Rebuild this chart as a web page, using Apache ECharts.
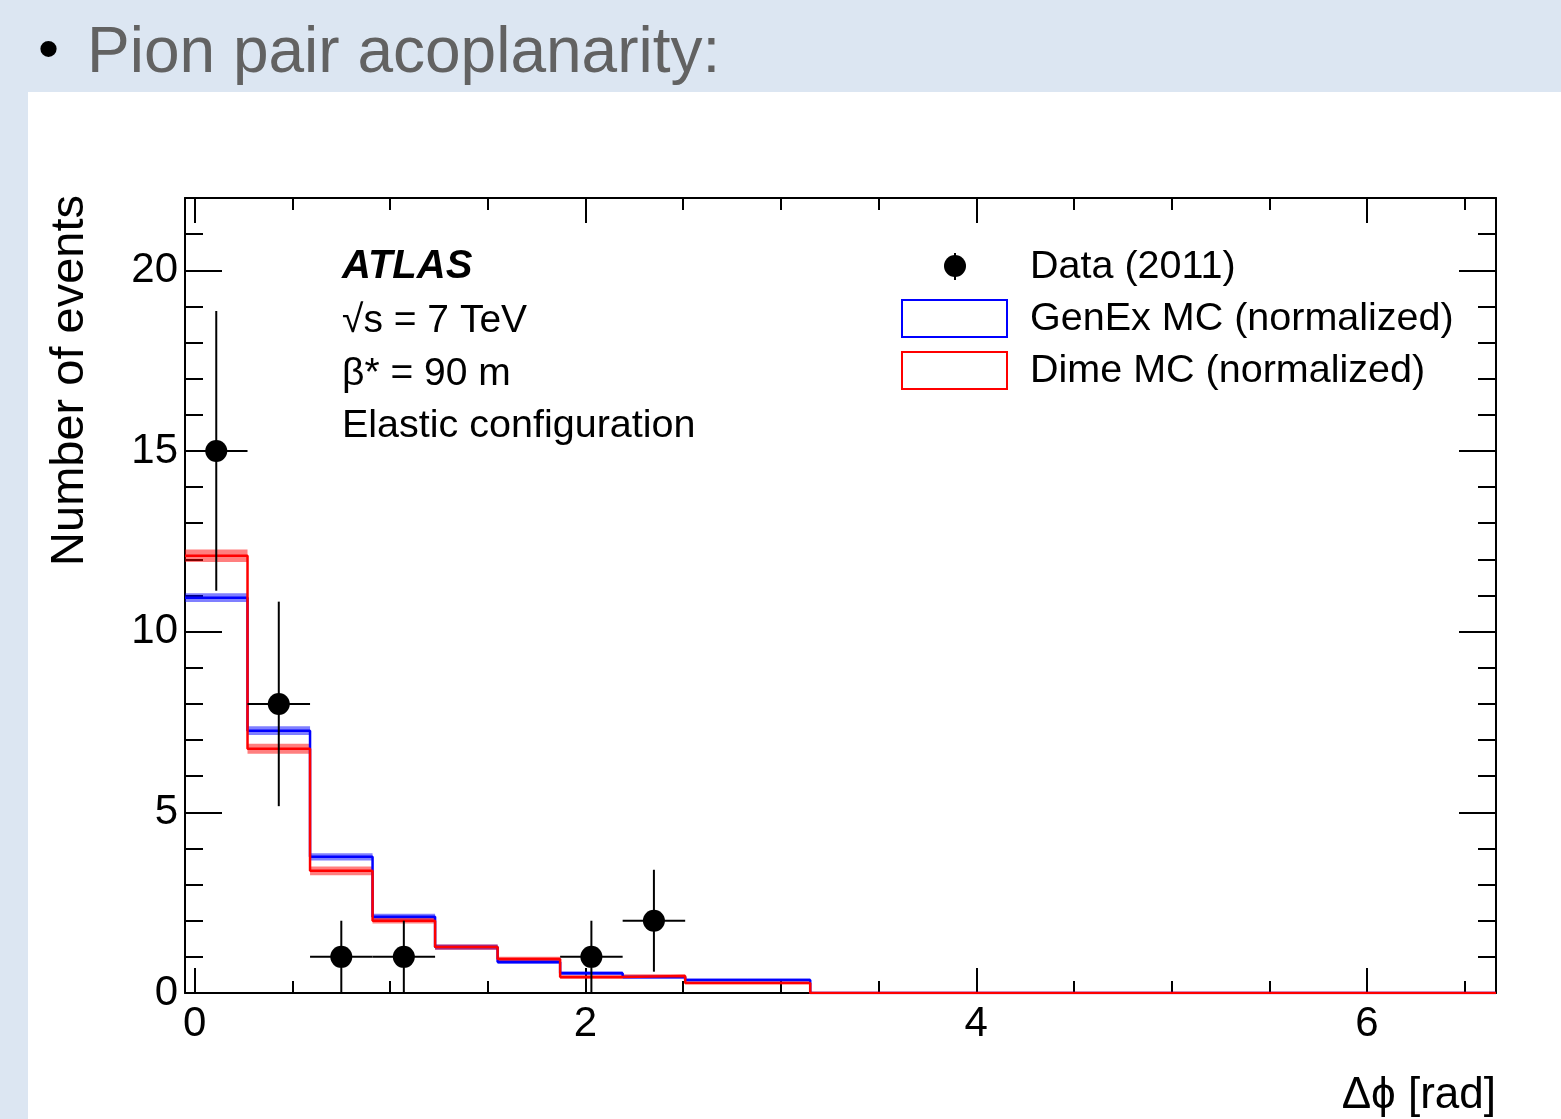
<!DOCTYPE html>
<html>
<head>
    <meta charset="UTF-8">
    <title>Pion pair acoplanarity</title>
    <script src="https://cdn.jsdelivr.net/npm/echarts@6/dist/echarts.min.js"></script>
    <style>
        html, body {margin: 0; padding: 0; background: #dce6f2;}
        #paper {position: absolute; left: 28px; top: 92px; width: 1533px; height: 1027px; background: #fff;}
        #main {position: absolute; left: 0; top: 0; width: 1561px; height: 1119px;}
    </style>
</head>
<body>
<div id="paper"></div>
<div id="main"></div>

<script>
    var myChart = echarts.init(document.getElementById('main'));

    // bin edges of the histogram (rad)
    var binEdges = [-0.05, 0.27, 0.59, 0.91, 1.23, 1.55, 1.87, 2.19, 2.51, 2.83, 3.15];
    var xMin = -0.05, xMax = 6.66;

    // data (2011): counts per bin and their errors
    var dataCounts = [15, 8, 1, 1, 0, 0, 1, 2, 0, 0];
    var dataErrors = [3.87, 2.83, 1, 1, 0, 0, 1, 1.41, 0, 0];

    // MC, normalized
    var genexValues = [10.94, 7.26, 3.77, 2.11, 1.27, 0.86, 0.55, 0.44, 0.36, 0.36];
    var genexErrors = [0.12, 0.12, 0.1, 0.08, 0.07, 0.06, 0.05, 0.05, 0.04, 0.04];
    var dimeValues = [12.1, 6.76, 3.38, 2.0, 1.27, 0.94, 0.44, 0.47, 0.28, 0.28];
    var dimeErrors = [0.17, 0.14, 0.12, 0.08, 0.07, 0.06, 0.05, 0.05, 0.04, 0.04];

    // axis ticks
    var xMajorTicks = [0, 2, 4, 6];
    var xMinorTicks = [0.5, 1, 1.5, 2.5, 3, 3.5, 4.5, 5, 5.5, 6.5];
    var yMajorTicks = [0, 5, 10, 15, 20];
    var yMinorTicks = [1, 2, 3, 4, 6, 7, 8, 9, 11, 12, 13, 14, 16, 17, 18, 19, 21, 22];

    var font = '"Liberation Sans", Arial, Helvetica, sans-serif';

    function stepData(values) {
        var pts = [];
        for (var i = 0; i < values.length; i++) {
            pts.push([binEdges[i], values[i]]);
        }
        pts.push([binEdges[binEdges.length - 1], 0]);
        pts.push([xMax, 0]);
        return pts;
    }

    function bandData(values, errors) {
        return values.map(function (v, i) {
            return [binEdges[i], binEdges[i + 1], v - errors[i], v + errors[i]];
        });
    }

    var points = [], errBars = [];
    dataCounts.forEach(function (n, i) {
        if (n <= 0) return;
        var xc = (binEdges[i] + binEdges[i + 1]) / 2;
        points.push([xc, n]);
        errBars.push([xc, n, dataErrors[i], binEdges[i], binEdges[i + 1]]);
    });

    function renderBand(color) {
        return function (params, api) {
            var p0 = api.coord([api.value(0), api.value(3)]);
            var p1 = api.coord([api.value(1), api.value(2)]);
            return {
                type: 'rect',
                shape: {x: p0[0], y: p0[1], width: p1[0] - p0[0], height: p1[1] - p0[1]},
                style: {fill: color}
            };
        };
    }

    function xAxisDef(pos, ticks, len, labels, line) {
        return {
            type: 'value', position: pos, min: xMin, max: xMax,
            axisLine: {show: line, onZero: false, lineStyle: {color: '#000', width: 2}},
            axisTick: {show: true, inside: true, length: len, customValues: ticks, lineStyle: {color: '#000', width: 2}},
            axisLabel: labels ? {show: true, customValues: ticks, color: '#000', fontSize: 42, fontFamily: font, margin: 10} : {show: false},
            splitLine: {show: false}
        };
    }

    function yAxisDef(pos, ticks, len, labels, line) {
        return {
            type: 'value', position: pos, min: 0, max: 22,
            axisLine: {show: line, onZero: false, lineStyle: {color: '#000', width: 2}},
            axisTick: {show: true, inside: true, length: len, customValues: ticks, lineStyle: {color: '#000', width: 2}},
            axisLabel: labels ? {show: true, customValues: ticks, color: '#000', fontSize: 42, fontFamily: font, margin: 7} : {show: false},
            splitLine: {show: false}
        };
    }

    var option = {
        animation: false,
        backgroundColor: 'transparent',
        grid: {left: 185, top: 198, width: 1311, height: 795, containLabel: false},
        xAxis: [
            xAxisDef('bottom', xMajorTicks, 25, true, true),
            xAxisDef('bottom', xMinorTicks, 12, false, false),
            xAxisDef('top', xMajorTicks, 25, false, true),
            xAxisDef('top', xMinorTicks, 12, false, false)
        ],
        yAxis: [
            yAxisDef('left', yMajorTicks, 37, true, true),
            yAxisDef('left', yMinorTicks, 18, false, false),
            yAxisDef('right', yMajorTicks, 37, false, true),
            yAxisDef('right', yMinorTicks, 18, false, false)
        ],
        series: [
            {
                type: 'custom', name: 'GenEx band', renderItem: renderBand('rgba(0,0,255,0.5)'),
                data: bandData(genexValues, genexErrors), z: 2
            },
            {
                type: 'custom', name: 'Dime band', renderItem: renderBand('rgba(255,0,0,0.5)'),
                data: bandData(dimeValues, dimeErrors), z: 3
            },
            {
                type: 'line', name: 'GenEx MC (normalized)', data: stepData(genexValues), step: 'end',
                showSymbol: false, symbol: 'none', lineStyle: {color: '#0000ff', width: 2.5}, z: 4
            },
            {
                type: 'line', name: 'Dime MC (normalized)', data: stepData(dimeValues), step: 'end',
                showSymbol: false, symbol: 'none', lineStyle: {color: '#ff0000', width: 2.5}, z: 5
            },
            {
                type: 'custom', name: 'Data errors', data: errBars, z: 6,
                renderItem: function (params, api) {
                    var xc = api.value(0), y = api.value(1), e = api.value(2);
                    var top = api.coord([xc, y + e]), bot = api.coord([xc, y - e]);
                    var l = api.coord([api.value(3), y]), r = api.coord([api.value(4), y]);
                    var st = {stroke: '#000', lineWidth: 2};
                    return {
                        type: 'group', children: [
                            {type: 'line', shape: {x1: top[0], y1: top[1], x2: bot[0], y2: bot[1]}, style: st},
                            {type: 'line', shape: {x1: l[0], y1: l[1], x2: r[0], y2: r[1]}, style: st}
                        ]
                    };
                }
            },
            {
                type: 'scatter', name: 'Data (2011)', data: points, symbol: 'circle', symbolSize: 22,
                itemStyle: {color: '#000', opacity: 1}, z: 7
            }
        ],
        graphic: [
            {type: 'text', left: 38, top: 22, style: {text: '•', font: '60px ' + font, fill: '#000'}},
            {type: 'text', left: 87, top: 22, style: {text: 'Pion pair acoplanarity:', font: '64px ' + font, fill: '#626262'}},
            // axis titles
            {type: 'text', x: 70, y: 195, rotation: Math.PI / 2,
                style: {text: 'Number of events', font: '47px ' + font, fill: '#000', align: 'right', verticalAlign: 'middle'}},
            {type: 'text', x: 1496, y: 1096,
                style: {text: 'Δϕ [rad]', font: '44px ' + font, fill: '#000', align: 'right', verticalAlign: 'middle'}},
            // labels inside the frame
            {type: 'text', x: 342, y: 267, style: {text: 'ATLAS', font: 'italic bold 40px ' + font, fill: '#000', verticalAlign: 'middle'}},
            {type: 'text', x: 342, y: 321, style: {text: '√s = 7 TeV', font: '39px ' + font, fill: '#000', verticalAlign: 'middle'}},
            {type: 'text', x: 342, y: 374, style: {text: 'β* = 90 m', font: '39px ' + font, fill: '#000', verticalAlign: 'middle'}},
            {type: 'text', x: 342, y: 426, style: {text: 'Elastic configuration', font: '39.5px ' + font, fill: '#000', verticalAlign: 'middle'}},
            // legend
            {type: 'line', shape: {x1: 955, y1: 253, x2: 955, y2: 280}, style: {stroke: '#000', lineWidth: 2}},
            {type: 'circle', shape: {cx: 955, cy: 266, r: 11}, style: {fill: '#000'}},
            {type: 'text', x: 1030, y: 267, style: {text: 'Data (2011)', font: '39.5px ' + font, fill: '#000', verticalAlign: 'middle'}},
            {type: 'rect', shape: {x: 902, y: 300, width: 105, height: 37}, style: {fill: '#fff', stroke: '#0000ff', lineWidth: 2}},
            {type: 'text', x: 1030, y: 319, style: {text: 'GenEx MC (normalized)', font: '39.5px ' + font, fill: '#000', verticalAlign: 'middle'}},
            {type: 'rect', shape: {x: 902, y: 352, width: 105, height: 37}, style: {fill: '#fff', stroke: '#ff0000', lineWidth: 2}},
            {type: 'text', x: 1030, y: 371, style: {text: 'Dime MC (normalized)', font: '39.5px ' + font, fill: '#000', verticalAlign: 'middle'}}
        ]
    };

    myChart.setOption(option);
</script>
</body>
</html>
